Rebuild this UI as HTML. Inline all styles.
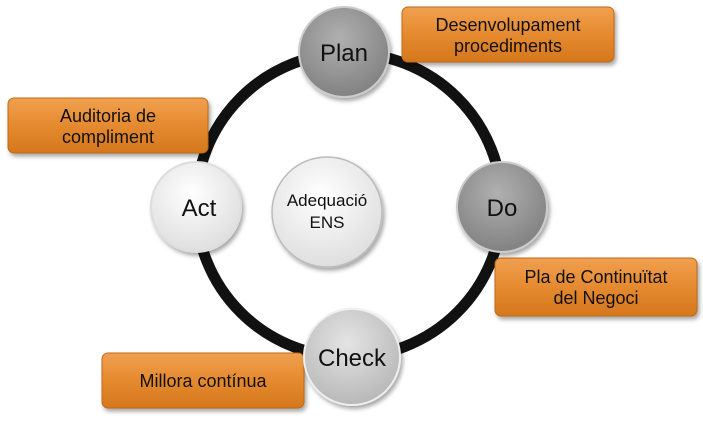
<!DOCTYPE html>
<html><head><meta charset="utf-8"><style>
html,body{margin:0;padding:0;background:#fff;}
svg{display:block;font-family:"Liberation Sans","DejaVu Sans",sans-serif;}
</style></head><body>
<svg width="703" height="422" viewBox="0 0 703 422">
<defs>
<linearGradient id="og" x1="0" y1="0" x2="0" y2="1">
<stop offset="0" stop-color="#f0a050"/><stop offset="0.5" stop-color="#e58a2f"/><stop offset="1" stop-color="#d5771c"/></linearGradient>
<radialGradient id="gDark" cx="0.45" cy="0.35" r="0.7"><stop offset="0" stop-color="#b0b0b0"/><stop offset="1" stop-color="#7e7e7e"/></radialGradient>
<radialGradient id="gMid" cx="0.45" cy="0.35" r="0.7"><stop offset="0" stop-color="#e4e4e4"/><stop offset="1" stop-color="#b5b5b5"/></radialGradient>
<radialGradient id="gLight" cx="0.45" cy="0.35" r="0.7"><stop offset="0" stop-color="#ffffff"/><stop offset="1" stop-color="#dcdcdc"/></radialGradient>
<filter id="sh" x="-20%" y="-20%" width="140%" height="140%"><feDropShadow dx="2" dy="3" stdDeviation="2" flood-color="#000" flood-opacity="0.35"/></filter>
</defs>
<ellipse cx="349" cy="205" rx="153" ry="152" fill="none" stroke="#111" stroke-width="11"/>
<circle cx="327" cy="212" r="55" fill="url(#gLight)" stroke="#bbb" stroke-width="1.5" filter="url(#sh)"/>
<text x="327" y="206" font-size="17" text-anchor="middle" fill="#111">Adequació</text>
<text x="327" y="228" font-size="17" text-anchor="middle" fill="#111">ENS</text>

<g filter="url(#sh)">
<rect x="402" y="7" width="212" height="55" rx="6" fill="url(#og)" stroke="#c06a18"/>
<rect x="8" y="98" width="200" height="55" rx="6" fill="url(#og)" stroke="#c06a18"/>
<rect x="495" y="258" width="202" height="58" rx="6" fill="url(#og)" stroke="#c06a18"/>
<rect x="102" y="353" width="202" height="55" rx="6" fill="url(#og)" stroke="#c06a18"/>
</g>
<g font-size="18" fill="#111" text-anchor="middle">
<text x="508" y="31">Desenvolupament</text><text x="508" y="52">procediments</text>
<text x="108" y="122">Auditoria de</text><text x="108" y="143">compliment</text>
<text x="596" y="283">Pla de Continuïtat</text><text x="596" y="304">del Negoci</text>
<text x="203" y="387">Millora contínua</text>
</g>

<g filter="url(#sh)">
<circle cx="344" cy="52" r="45" fill="url(#gDark)" stroke="#ccc" stroke-width="2"/>
<circle cx="502" cy="207" r="45" fill="url(#gDark)" stroke="#ccc" stroke-width="2"/>
<circle cx="352" cy="357" r="48" fill="url(#gMid)" stroke="#eee" stroke-width="2"/>
<circle cx="196" cy="207" r="45" fill="url(#gLight)" stroke="#ddd" stroke-width="2"/>
</g>
<g font-size="24" fill="#111" text-anchor="middle">
<text x="344" y="61">Plan</text>
<text x="502" y="216">Do</text>
<text x="352" y="366">Check</text>
<text x="199" y="216">Act</text>
</g>
</svg>
</body></html>
